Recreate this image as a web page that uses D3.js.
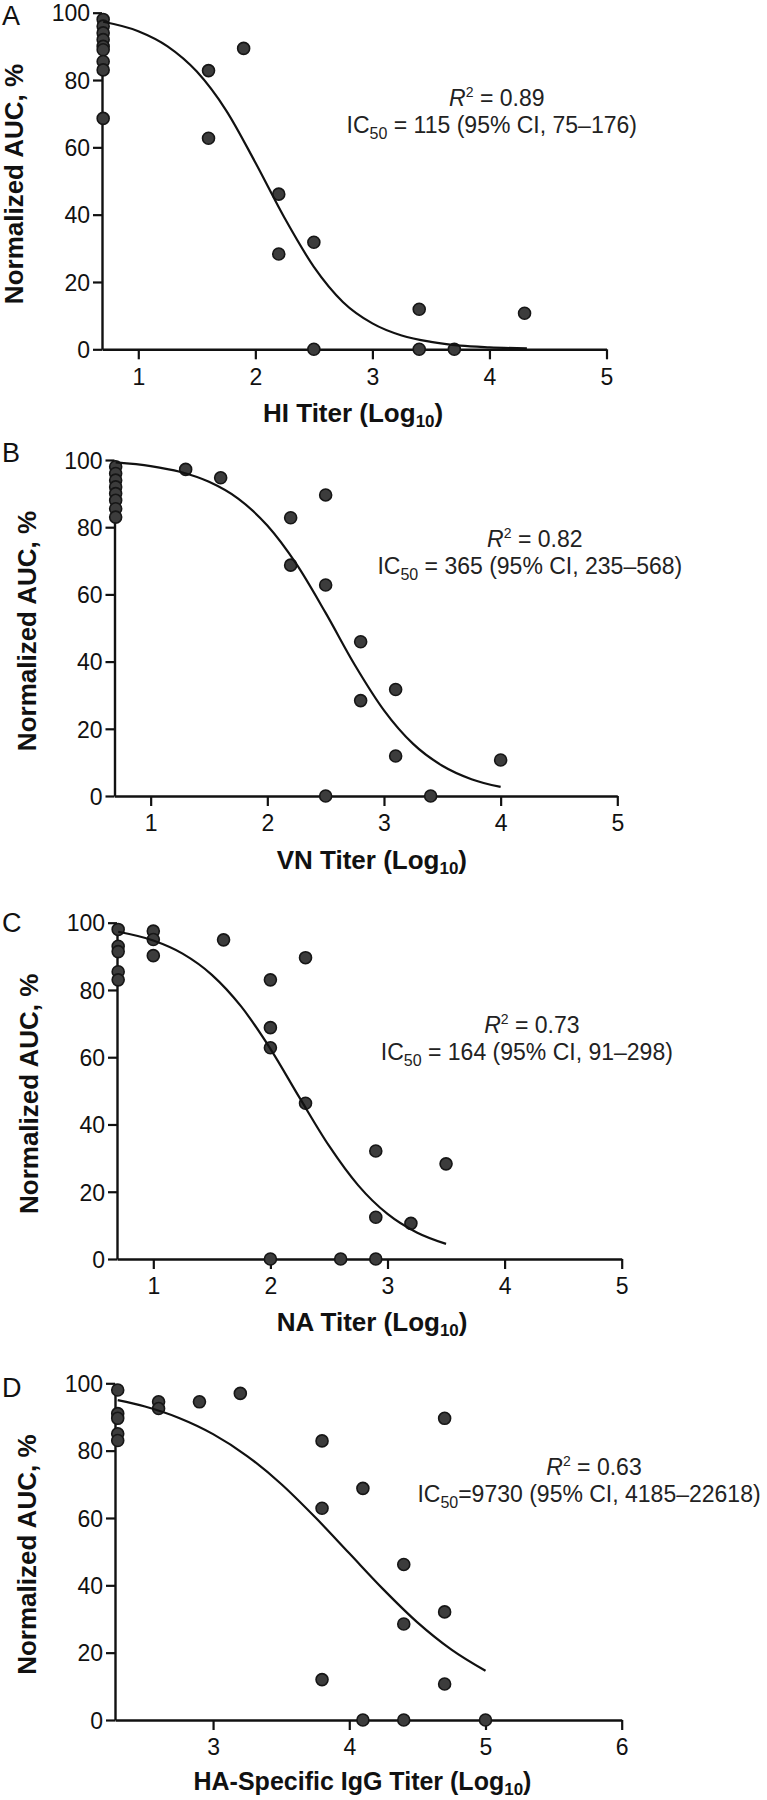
<!DOCTYPE html>
<html><head><meta charset="utf-8">
<script src="https://cdn.jsdelivr.net/npm/d3@7"></script>
<style>
body{margin:0;background:#fff;}
svg{display:block;font-family:"Liberation Sans",Arial,Helvetica,sans-serif;}
</style>
</head><body>
<script>
// ---------- data ----------
const yTicks = [0, 20, 40, 60, 80, 100];
const xTicksTiter = [1, 2, 3, 4, 5];
const xTicksIgG = [3, 4, 5, 6];

const panelLetters = ["A", "B", "C", "D"];
const xTitles = ["HI Titer", "VN Titer", "NA Titer", "HA-Specific IgG Titer"];
const yTitle = "Normalized AUC, %";
const r2Values = ["0.89", "0.82", "0.73", "0.63"];
const ic50Values = ["115", "365", "164", "9730"];
const ciLow = ["75", "235", "91", "4185"];
const ciHigh = ["176", "568", "298", "22618"];

// A: HI titer
const hiX = [0.7,0.7,0.7,0.7,0.7,0.7,0.7,0.7,0.7, 1.6,1.6,1.9,2.2,2.2,2.5,2.5,3.4,3.4,3.7,4.3];
const hiY = [98,96,94,92,90,89,85.5,83,68.6, 82.8,62.7,89.4,46.1,28.3,31.8,0,11.9,0,0,10.7];
const hiCurveX = [0.7,1.0,1.25,1.5,1.75,2.0,2.25,2.5,2.75,3.0,3.25,3.5,3.75,4.0,4.32];
const hiCurveY = [97.3,94.5,90,82.5,71,55.5,39,24.5,14,7.7,4.1,2.2,1.1,0.6,0.25];

// B: VN titer
const vnX = [0.7,0.7,0.7,0.7,0.7,0.7,0.7,0.7, 1.3,1.6,2.2,2.2,2.5,2.5,2.5,2.8,2.8,3.1,3.1,3.4,4.0];
const vnY = [98,96,94,92,90,88,85.5,83, 97.2,94.7,82.8,68.7,89.6,62.8,0,45.9,28.4,31.7,11.9,0,10.7];
const vnCurveX = [0.7,1.0,1.25,1.5,1.75,2.0,2.25,2.5,2.75,3.0,3.25,3.5,3.75,4.0];
const vnCurveY = [99.3,98.2,96.5,93.5,88.5,80.5,69,54.5,39,25.5,15.5,9,5,2.7];

// C: NA titer
const naX = [0.7,0.7,0.7,0.7,0.7, 1.0,1.0,1.0, 1.6, 2.0,2.0,2.0,2.0, 2.3,2.3, 2.6, 2.9,2.9,2.9, 3.2, 3.5];
const naY = [98,93,91.4,85.4,83, 97.5,95,90.2, 94.9, 83,68.8,62.8,0, 89.6,46.3, 0, 32.1,12.4,0, 10.6, 28.3];
const naCurveX = [0.7,1.0,1.25,1.5,1.75,2.0,2.25,2.5,2.75,3.0,3.25,3.5];
const naCurveY = [97.3,94.7,90.8,84.5,75.1,62.5,47.9,33.7,21.9,13.4,7.9,4.5];

// D: HA-specific IgG titer
const igX = [2.3,2.3,2.3,2.3,2.3, 2.6,2.6, 2.9, 3.2, 3.8,3.8,3.8, 4.1,4.1, 4.4,4.4,4.4, 4.7,4.7,4.7, 5.0];
const igY = [98,91,89.6,85,83, 94.5,92.5, 94.5, 97, 82.9,62.9,12, 68.8,0, 46.2,28.5,0, 89.6,32.1,10.7, 0];
const igCurveX = [2.3,2.5,2.75,3.0,3.25,3.5,3.75,4.0,4.25,4.5,4.75,5.0];
const igCurveY = [95,93.1,89.7,84.9,78.4,70.1,60.2,49.5,38.8,29,20.9,14.6];

// ---------- layout ----------
const panels = [
  {px: hiX, py: hiY, cx: hiCurveX, cy: hiCurveY, xDomain: [0.69, 5], xRange: [102, 606.5], yRange: [349.3, 12.7],
   ticks: xTicksTiter, letterY: 25, xTitleX: 263, titleDy: 73, annot: [4.02, 64.3], eqSpace: true},
  {px: vnX, py: vnY, cx: vnCurveX, cy: vnCurveY, xDomain: [0.69, 5], xRange: [114.5, 617.3], yRange: [796, 460],
   ticks: xTicksTiter, letterY: 462, xTitleX: 276.7, titleDy: 73, annot: [4.25, 66.1], eqSpace: true},
  {px: naX, py: naY, cx: naCurveX, cy: naCurveY, xDomain: [0.69, 5], xRange: [117, 621.7], yRange: [1259, 922.7],
   ticks: xTicksTiter, letterY: 932, xTitleX: 276.7, titleDy: 72, annot: [4.19, 59.2], eqSpace: true},
  {px: igX, py: igY, cx: igCurveX, cy: igCurveY, xDomain: [2.28, 6], xRange: [115, 621.7], yRange: [1720, 1383.3],
   ticks: xTicksIgG, letterY: 1397, xTitleX: 193.5, titleDy: 70, annot: [5.76, 64.8], eqSpace: false}
];

const ink = "#111";
const svg = d3.select("body").append("svg").attr("width", 767).attr("height", 1800);

panels.forEach((p, i) => {
  const x = d3.scaleLinear().domain(p.xDomain).range(p.xRange);
  const y = d3.scaleLinear().domain([0, 100]).range(p.yRange);
  const g = svg.append("g");

  // y axis
  const ya = g.append("g").attr("transform", `translate(${p.xRange[0]},0)`)
    .call(d3.axisLeft(y).tickValues(yTicks).tickFormat(d3.format("d")).tickSize(9).tickSizeOuter(0).tickPadding(3));
  // x axis
  const xa = g.append("g").attr("transform", `translate(0,${p.yRange[0]})`)
    .call(d3.axisBottom(x).tickValues(p.ticks).tickFormat(d3.format("d")).tickSize(10).tickSizeOuter(0).tickPadding(8));
  [ya, xa].forEach(a => {
    a.select(".domain").attr("stroke", ink).attr("stroke-width", 2.4);
    a.selectAll(".tick line").attr("stroke", ink).attr("stroke-width", 2.2);
    a.selectAll(".tick text").attr("fill", ink).style("font-size", "23px")
      .style("font-family", '"Liberation Sans",Arial,sans-serif');
  });
  ya.selectAll(".tick text").attr("dy", "0.36em");
  xa.selectAll(".tick text").attr("dy", "0.76em");

  // points
  g.append("g").selectAll("circle").data(p.px.map((v, k) => [v, p.py[k]])).join("circle")
    .attr("cx", d => x(d[0])).attr("cy", d => y(d[1])).attr("r", 6)
    .attr("fill", "#3c3c3c").attr("stroke", "#161616").attr("stroke-width", 1.6);

  // fitted curve
  const line = d3.line().x(d => x(d[0])).y(d => y(d[1])).curve(d3.curveMonotoneX);
  g.append("path").datum(p.cx.map((v, k) => [v, p.cy[k]]))
    .attr("d", line).attr("fill", "none").attr("stroke", ink).attr("stroke-width", 2.2);

  // panel letter
  g.append("text").attr("x", 2).attr("y", p.letterY).attr("fill", ink)
    .style("font-size", "27px").text(panelLetters[i]);

  // y title
  const ymid = (p.yRange[0] + p.yRange[1]) / 2 + 3;
  g.append("text").attr("transform", `translate(${p.xRange[0] - 79},${ymid}) rotate(-90)`)
    .attr("text-anchor", "middle").attr("fill", ink)
    .style("font-size", "26px").style("font-weight", "bold").text(yTitle);

  // x title
  const xt = g.append("text").attr("x", p.xTitleX).attr("y", p.yRange[0] + p.titleDy).attr("fill", ink)
    .style("font-size", i === 3 ? "25px" : "26px").style("font-weight", "bold");
  xt.append("tspan").text(xTitles[i] + " (Log");
  xt.append("tspan").attr("dy", 5).style("font-size", "17px").text("10");
  xt.append("tspan").attr("dy", -5).text(")");

  // annotation
  const ax = x(p.annot[0]), ay = y(p.annot[1]);
  const r2 = g.append("text").attr("x", ax + 5).attr("y", ay - 27).attr("text-anchor", "middle")
    .attr("fill", "#222").style("font-size", "23px");
  r2.append("tspan").style("font-style", "italic").text("R");
  r2.append("tspan").attr("dy", -9).style("font-size", "14px").text("2");
  r2.append("tspan").attr("dy", 9).text(" = " + r2Values[i]);

  const ic = g.append("text").attr("x", ax).attr("y", ay).attr("text-anchor", "middle")
    .attr("fill", "#222").style("font-size", "23px");
  ic.append("tspan").text("IC");
  ic.append("tspan").attr("dy", 6).style("font-size", "16px").text("50");
  const eq = p.eqSpace ? " = " : "=";
  ic.append("tspan").attr("dy", -6)
    .text(`${eq}${ic50Values[i]} (95% CI, ${ciLow[i]}\u2013${ciHigh[i]})`);
});
</script>
</body></html>
